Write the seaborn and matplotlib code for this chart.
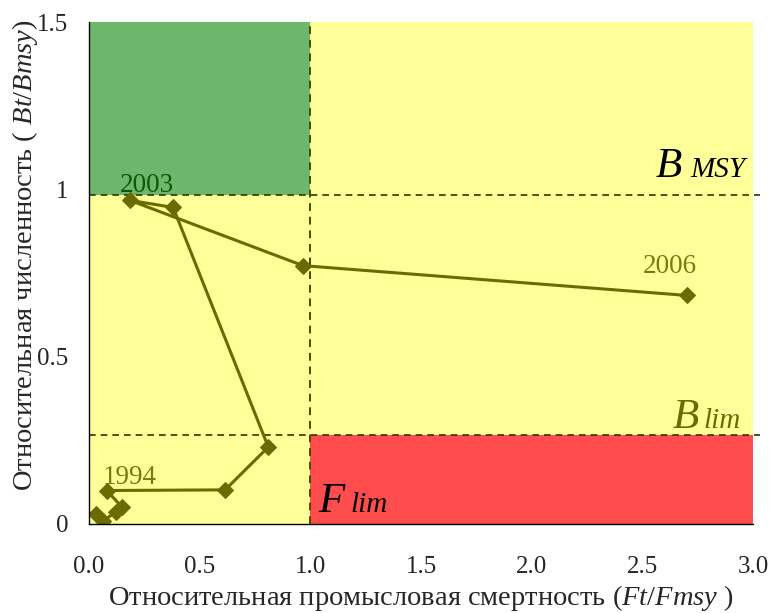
import matplotlib
matplotlib.use("Agg")
import matplotlib.pyplot as plt
import seaborn as sns
import pandas as pd

# Data, in trajectory order
f_rel = [0.03, 0.065, 0.12, 0.15, 0.08, 0.615, 0.81, 0.38, 0.185, 0.967, 2.70]
b_rel = [0.03, 0.01, 0.035, 0.05, 0.10, 0.102, 0.23, 0.946, 0.967, 0.772, 0.683]
x_ticks = [0.0, 0.5, 1.0, 1.5, 2.0, 2.5, 3.0]
x_ticklabels = ["0.0", "0.5", "1.0", "1.5", "2.0", "2.5", "3.0"]
y_ticks = [0, 0.5, 1, 1.5]
y_ticklabels = ["0", "0.5", "1", "1.5"]
b_msy = 0.982
b_lim = 0.267
f_lim = 1.0
year_labels = ["1994", "2003", "2006"]

sns.set_theme(style="white")
plt.rcParams["font.family"] = ["Liberation Serif", "DejaVu Serif"]
plt.rcParams["mathtext.fontset"] = "custom"
plt.rcParams["mathtext.rm"] = "Liberation Serif"
plt.rcParams["mathtext.it"] = "Liberation Serif:italic"

fig = plt.figure(figsize=(7.72, 6.13), dpi=100)
ax = fig.add_axes([0.1153, 0.1452, 0.8601, 0.8189])

yellow = "#FFFF99"
green = "#6DB76D"
red = "#FF4C4C"
olive = "#6B6B00"

ax.set_xlim(0, 3)
ax.set_ylim(0, 1.5)
ax.axhspan(0, 1.5, xmin=0, xmax=1, color=yellow, zorder=0, lw=0)
ax.fill_between([0, f_lim], b_msy, 1.5, color=green, zorder=0.5, lw=0)
ax.fill_between([f_lim, 3], 0, b_lim, color=red, zorder=0.5, lw=0)

ax.plot([0, 3.03], [b_msy, b_msy], ls=(0, (4, 3)), color="#333300", lw=1.2, zorder=1, clip_on=False)
ax.plot([0, 3.03], [b_lim, b_lim], ls=(0, (4, 3)), color="#333300", lw=1.2, zorder=1, clip_on=False)
ax.plot([f_lim, f_lim], [0, 1.5], ls=(0, (4, 3)), color="#4a4a00", lw=1.4, zorder=1)

df = pd.DataFrame({"F": f_rel, "B": b_rel})
sns.lineplot(data=df, x="F", y="B", sort=False, estimator=None, marker="D",
             markersize=8, color=olive, lw=2.2, markeredgecolor=olive, ax=ax, zorder=3)

ax.text(0.063, 0.12, year_labels[0], fontsize=19.5, color="#7A7A10", ha="left", va="baseline")
ax.text(0.14, 0.991, year_labels[1], fontsize=19.5, color="#0B5A0B", ha="left", va="baseline")
ax.text(2.50, 0.751, year_labels[2], fontsize=19.5, color="#7A7A10", ha="left", va="baseline")

ax.text(2.56, 1.036, "B", fontsize=31, style="italic", color="black", ha="left", va="baseline")
ax.text(2.716, 1.036, "MSY", fontsize=21, style="italic", color="black", ha="left", va="baseline")
ax.text(2.635, 0.287, "B", fontsize=31, style="italic", color="#6B6B00", ha="left", va="baseline")
ax.text(2.775, 0.287, "lim", fontsize=21, style="italic", color="#6B6B00", ha="left", va="baseline")
ax.text(1.035, 0.036, "F", fontsize=31, style="italic", color="black", ha="left", va="baseline")
ax.text(1.18, 0.036, "lim", fontsize=21, style="italic", color="black", ha="left", va="baseline")

ax.set_xticks(x_ticks)
ax.set_xticklabels(x_ticklabels, fontsize=18)
ax.set_yticks(y_ticks)
ax.set_yticklabels(y_ticklabels, fontsize=18)
ax.tick_params(axis="both", direction="out", length=7, width=1, color="black")
ax.tick_params(axis="x", pad=16)
ax.tick_params(axis="y", pad=8)
ax.set_xlabel("Относительная промысловая смертность ($Ft/Fmsy$ )", fontsize=20.5, labelpad=4)
ax.set_ylabel("Относительная численность ( $Bt/Bmsy$)", fontsize=20.5)
ax.yaxis.set_label_coords(-0.074, 0.536)

for s in ["top", "right"]:
    ax.spines[s].set_visible(False)
for s in ["left", "bottom"]:
    ax.spines[s].set_color("black")
    ax.spines[s].set_linewidth(1)
    ax.spines[s].set_zorder(4)

fig.savefig("out.png", dpi=100)
